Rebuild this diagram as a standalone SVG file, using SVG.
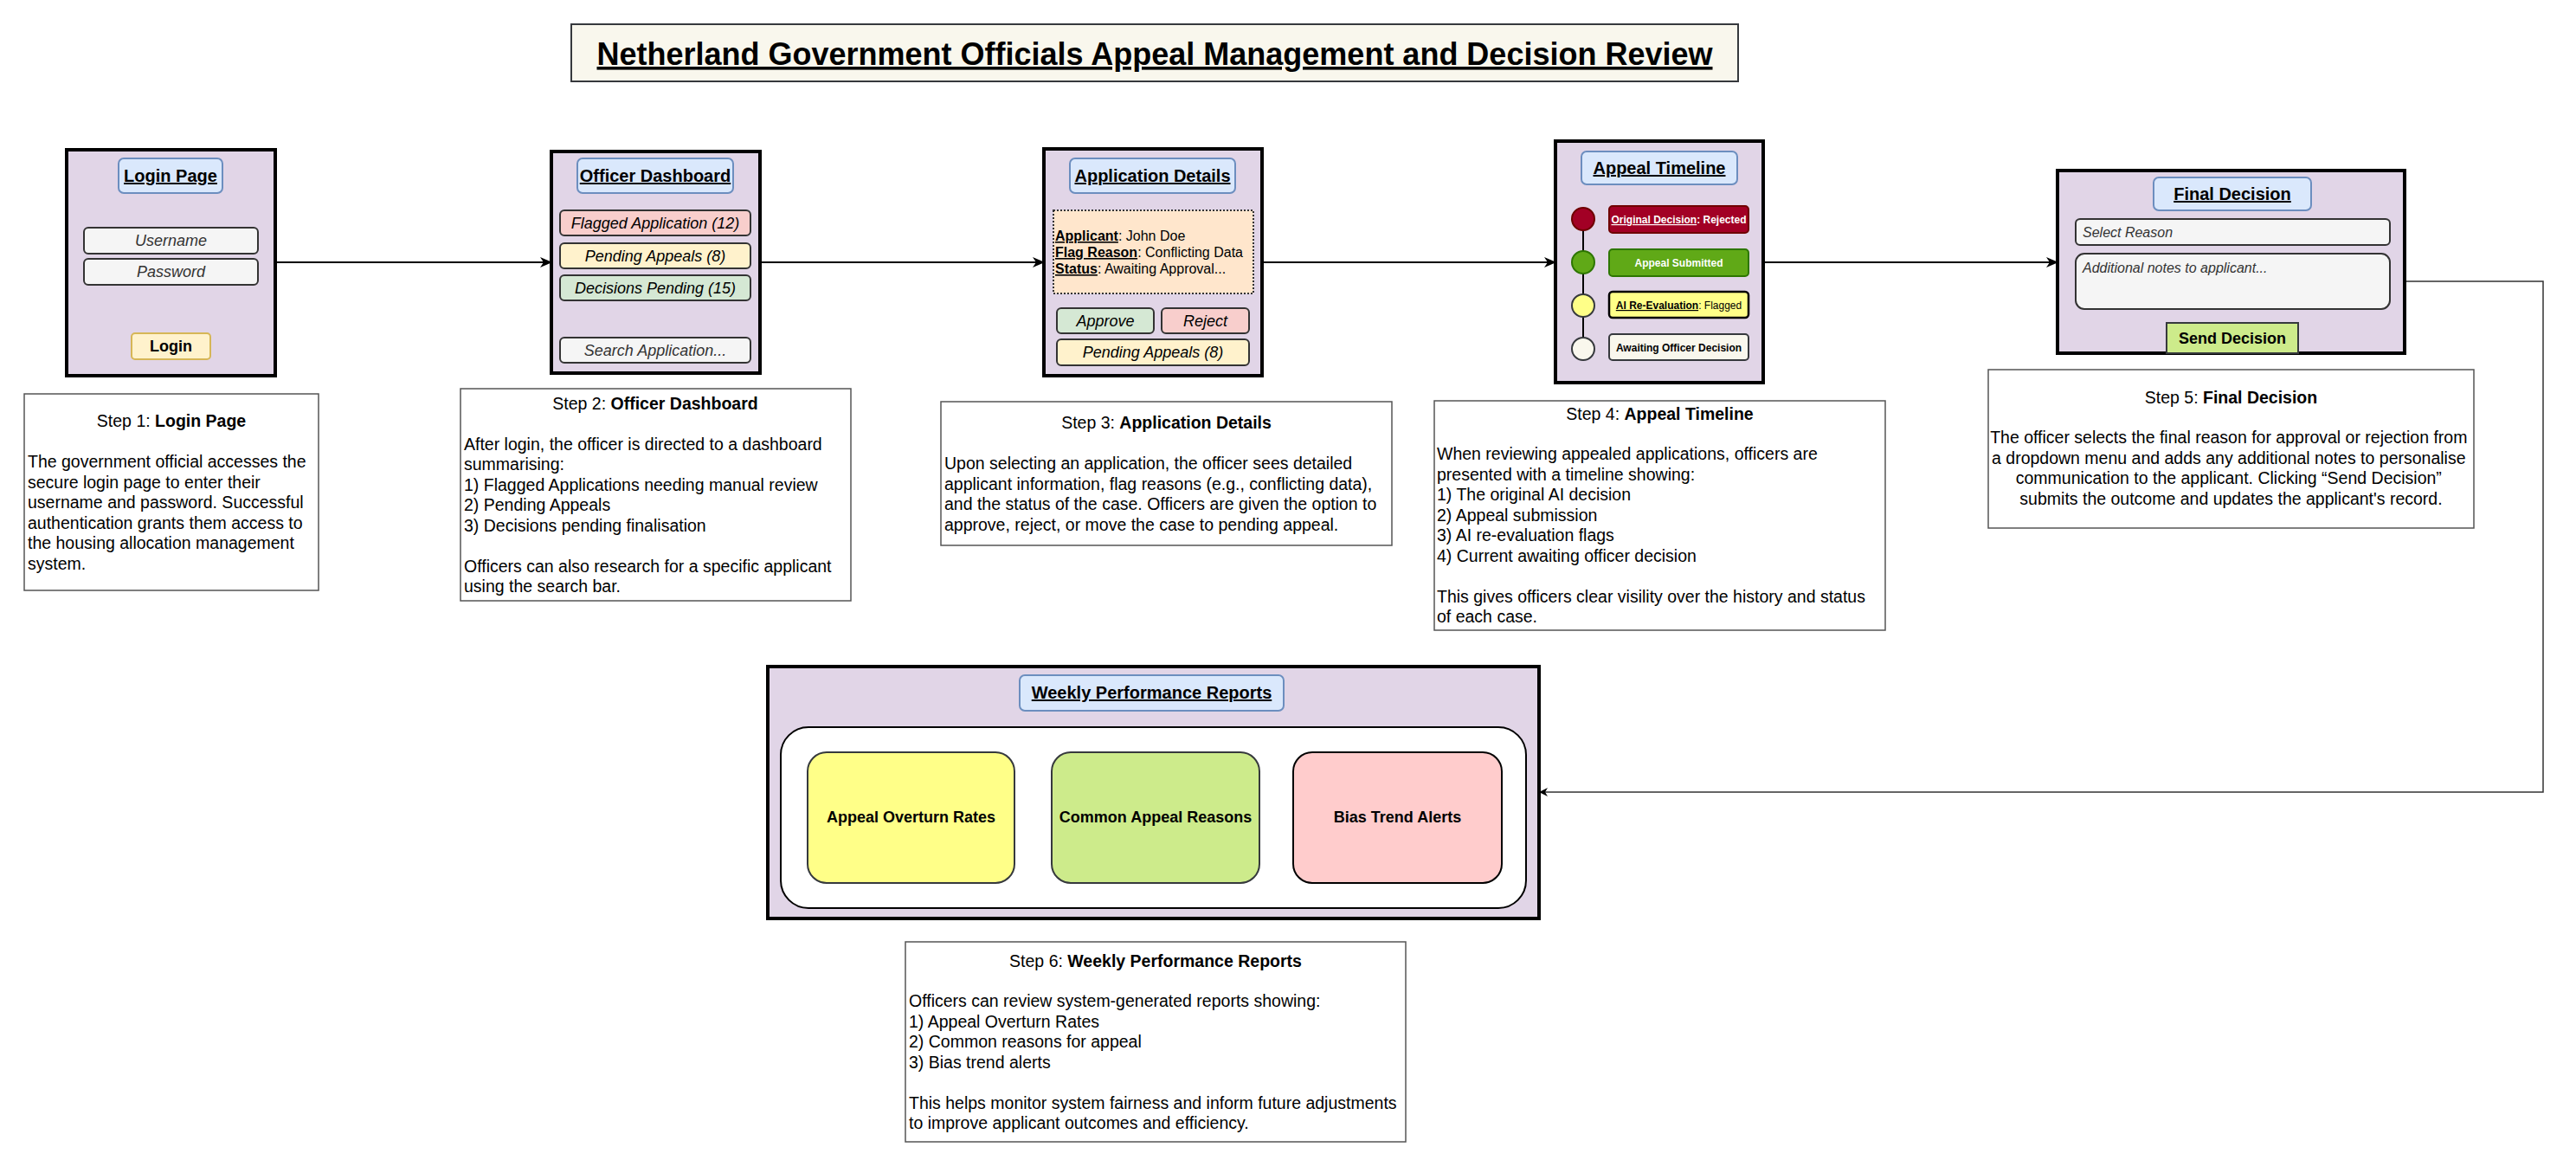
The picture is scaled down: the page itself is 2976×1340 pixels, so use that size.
<svg xmlns="http://www.w3.org/2000/svg" width="2976" height="1340" viewBox="0 0 2976 1340">
  <defs>
    <style>
      text { font-family: "Liberation Sans", Arial, Helvetica, sans-serif; fill: #000; }
      .frame { fill: #e1d5e7; stroke: #000; stroke-width: 4; }
      .pill { fill: #dae8fc; stroke: #6c8ebf; stroke-width: 2; }
      .pill-t { font-size: 20px; font-weight: bold; text-decoration: underline; text-anchor: middle; }
      .field { fill: #f5f5f5; stroke: #333; stroke-width: 2; }
      .in-t { font-size: 18px; font-style: italic; fill: #333; text-anchor: middle; }
      .btn-t { font-size: 18px; font-style: italic; text-anchor: middle; }
      .bold-t { font-size: 18px; font-weight: bold; text-anchor: middle; }
      .red { fill: #f8cecc; stroke: #333; stroke-width: 2; }
      .yel { fill: #fff2cc; stroke: #333; stroke-width: 2; }
      .grn { fill: #d5e8d4; stroke: #333; stroke-width: 2; }
      .step { fill: #fff; stroke: #555; stroke-width: 1.5; }
      .step-h { font-size: 19.5px; text-anchor: middle; }
      .step-b { font-size: 19.5px; }
      .tl-t { font-size: 12px; font-weight: bold; text-anchor: middle; }
      .card-t { font-size: 18px; font-weight: bold; text-anchor: middle; }
      .link { fill: none; stroke: #000; stroke-width: 2; }
    </style>
    <marker id="arrow" viewBox="0 0 14 12" refX="13" refY="6" markerWidth="14" markerHeight="12" markerUnits="userSpaceOnUse" orient="auto">
      <path d="M0,0 L14,6 L0,12 L4,6 Z" fill="#000"/>
    </marker>
    <marker id="arrow-s" viewBox="0 0 10 10" refX="9" refY="5" markerWidth="10" markerHeight="10" markerUnits="userSpaceOnUse" orient="auto">
      <path d="M0,0 L10,5 L0,10 L3,5 Z" fill="#000"/>
    </marker>
  </defs>

  <rect width="2976" height="1340" fill="#fff"/>

  <!-- heading -->
  <g id="title">
    <rect x="660" y="28" width="1348" height="66" fill="#f9f7ed" stroke="#36393d" stroke-width="2"/>
    <text x="1334" y="75" font-size="36" font-weight="bold" text-anchor="middle" text-decoration="underline">Netherland Government Officials Appeal Management and Decision Review</text>
  </g>

  <!-- connectors -->
  <g id="connectors">
    <line class="link" x1="318" y1="303" x2="637" y2="303" marker-end="url(#arrow)"/>
    <line class="link" x1="878" y1="303" x2="1206" y2="303" marker-end="url(#arrow)"/>
    <line class="link" x1="1458" y1="303" x2="1797" y2="303" marker-end="url(#arrow)"/>
    <line class="link" x1="2037" y1="303" x2="2377" y2="303" marker-end="url(#arrow)"/>
    <path d="M2761,325 H2938 V915 H1779" fill="none" stroke="#333" stroke-width="1.5" marker-end="url(#arrow-s)"/>
  </g>

  <!-- 1: login screen -->
  <g id="login-page">
    <rect class="frame" x="77" y="173" width="241" height="261"/>
    <rect class="pill" x="137" y="183" width="120" height="40" rx="6"/>
    <text class="pill-t" x="197" y="210">Login Page</text>
    <rect class="field" x="97" y="263" width="201" height="30" rx="5"/>
    <text class="in-t" x="197.5" y="284">Username</text>
    <rect class="field" x="97" y="299" width="201" height="30" rx="5"/>
    <text class="in-t" x="197.5" y="320">Password</text>
    <rect x="152" y="385" width="91" height="30" rx="4" fill="#fff2cc" stroke="#d6b656" stroke-width="2"/>
    <text class="bold-t" x="197.5" y="406">Login</text>
  </g>

  <!-- 2: dashboard -->
  <g id="officer-dashboard">
    <rect class="frame" x="637" y="175" width="241" height="256"/>
    <rect class="pill" x="667" y="183" width="180" height="40" rx="6"/>
    <text class="pill-t" x="757" y="210">Officer Dashboard</text>
    <rect class="red" x="647" y="243" width="220" height="29" rx="5"/>
    <text class="btn-t" x="757" y="264">Flagged Application (12)</text>
    <rect class="yel" x="647" y="281" width="220" height="29" rx="5"/>
    <text class="btn-t" x="757" y="302">Pending Appeals (8)</text>
    <rect class="grn" x="647" y="318" width="220" height="29" rx="5"/>
    <text class="btn-t" x="757" y="339">Decisions Pending (15)</text>
    <rect class="field" x="647" y="390" width="220" height="29" rx="5"/>
    <text class="in-t" x="757" y="411">Search Application...</text>
  </g>

  <!-- 3: application details -->
  <g id="application-details">
    <rect class="frame" x="1206" y="172" width="252" height="262"/>
    <rect class="pill" x="1236" y="183" width="191" height="40" rx="6"/>
    <text class="pill-t" x="1331.5" y="210">Application Details</text>
    <rect x="1217" y="243" width="231" height="96" fill="#ffe6cc" stroke="#333" stroke-width="2" stroke-dasharray="2 2"/>
    <text x="1219" y="278" font-size="16"><tspan font-weight="bold" text-decoration="underline">Applicant</tspan>: John Doe</text>
    <text x="1219" y="297" font-size="16"><tspan font-weight="bold" text-decoration="underline">Flag Reason</tspan>: Conflicting Data</text>
    <text x="1219" y="316" font-size="16"><tspan font-weight="bold" text-decoration="underline">Status</tspan>: Awaiting Approval...</text>
    <rect class="grn" x="1221" y="356" width="112" height="29" rx="5"/>
    <text class="btn-t" x="1277" y="377">Approve</text>
    <rect class="red" x="1342" y="356" width="101" height="29" rx="5"/>
    <text class="btn-t" x="1392.5" y="377">Reject</text>
    <rect class="yel" x="1221" y="392" width="222" height="30" rx="5"/>
    <text class="btn-t" x="1332" y="413">Pending Appeals (8)</text>
  </g>

  <!-- 4: appeal timeline -->
  <g id="appeal-timeline">
    <rect class="frame" x="1797" y="163" width="240" height="279"/>
    <rect class="pill" x="1827" y="175" width="180" height="38" rx="6"/>
    <text class="pill-t" x="1917" y="201">Appeal Timeline</text>
    <line x1="1829" y1="253" x2="1829" y2="403" stroke="#000" stroke-width="2"/>
    <circle cx="1829" cy="253" r="13" fill="#a20025" stroke="#6f0000" stroke-width="2"/>
    <circle cx="1829" cy="303" r="13" fill="#60a917" stroke="#2d7600" stroke-width="2"/>
    <circle cx="1829" cy="353" r="13" fill="#ffff88" stroke="#36393d" stroke-width="2"/>
    <circle cx="1829" cy="403" r="13" fill="#f9f7ed" stroke="#36393d" stroke-width="2"/>
    <rect x="1859" y="238" width="161" height="31" rx="4" fill="#a20025" stroke="#6f0000" stroke-width="2"/>
    <text class="tl-t" x="1939.5" y="258" style="fill:#fff"><tspan text-decoration="underline">Original Decision</tspan>: Rejected</text>
    <rect x="1859" y="288" width="161" height="31" rx="4" fill="#60a917" stroke="#2d7600" stroke-width="2"/>
    <text class="tl-t" x="1939.5" y="308" style="fill:#fff">Appeal Submitted</text>
    <rect x="1859" y="337" width="161" height="30" rx="4" fill="#ffff88" stroke="#000" stroke-width="2.5"/>
    <text x="1939.5" y="357" font-size="12" text-anchor="middle"><tspan font-weight="bold" text-decoration="underline">AI Re-Evaluation</tspan>: Flagged</text>
    <rect x="1859" y="386" width="161" height="30" rx="4" fill="#f9f7ed" stroke="#36393d" stroke-width="2"/>
    <text class="tl-t" x="1939.5" y="406">Awaiting Officer Decision</text>
  </g>

  <!-- 5: final decision -->
  <g id="final-decision">
    <rect class="frame" x="2377" y="197" width="401" height="211"/>
    <rect class="pill" x="2488" y="205" width="182" height="38" rx="6"/>
    <text class="pill-t" x="2579" y="231">Final Decision</text>
    <rect class="field" x="2398" y="253" width="363" height="30" rx="5"/>
    <text x="2406" y="274" font-size="16" font-style="italic" style="fill:#333">Select Reason</text>
    <rect class="field" x="2398" y="293" width="363" height="64" rx="10"/>
    <text x="2406" y="315" font-size="16" font-style="italic" style="fill:#333">Additional notes to applicant...</text>
    <rect x="2503" y="373" width="152" height="35" fill="#cdeb8b" stroke="#36393d" stroke-width="2"/>
    <text class="bold-t" x="2579" y="397">Send Decision</text>
  </g>

  <!-- 6: weekly reports -->
  <g id="weekly-reports">
    <rect class="frame" x="887" y="770" width="891" height="291"/>
    <rect class="pill" x="1178" y="780" width="305" height="41" rx="6"/>
    <text class="pill-t" x="1330.5" y="807">Weekly Performance Reports</text>
    <rect x="902" y="840" width="861" height="209" rx="32" fill="#fff" stroke="#000" stroke-width="2"/>
    <rect x="933" y="869" width="239" height="151" rx="22" fill="#ffff88" stroke="#36393d" stroke-width="2"/>
    <text class="card-t" x="1052.5" y="950">Appeal Overturn Rates</text>
    <rect x="1215" y="869" width="240" height="151" rx="22" fill="#cdeb8b" stroke="#36393d" stroke-width="2"/>
    <text class="card-t" x="1335" y="950">Common Appeal Reasons</text>
    <rect x="1494" y="869" width="241" height="151" rx="22" fill="#ffcccc" stroke="#000" stroke-width="2"/>
    <text class="card-t" x="1614.5" y="950">Bias Trend Alerts</text>
  </g>

  <!-- step notes -->
  <g id="step-1">
    <rect class="step" x="28" y="455" width="340" height="227"/>
    <text class="step-h" x="198" y="493">Step 1: <tspan font-weight="bold">Login Page</tspan></text>
    <text class="step-b">
      <tspan x="32" y="540">The government official accesses the</tspan>
      <tspan x="32" y="563.5">secure login page to enter their</tspan>
      <tspan x="32" y="587">username and password. Successful</tspan>
      <tspan x="32" y="610.5">authentication grants them access to</tspan>
      <tspan x="32" y="634">the housing allocation management</tspan>
      <tspan x="32" y="657.5">system.</tspan>
    </text>
  </g>

  <g id="step-2">
    <rect class="step" x="532" y="449" width="451" height="245"/>
    <text class="step-h" x="757" y="473">Step 2: <tspan font-weight="bold">Officer Dashboard</tspan></text>
    <text class="step-b">
      <tspan x="536" y="519.5">After login, the officer is directed to a dashboard</tspan>
      <tspan x="536" y="543">summarising:</tspan>
      <tspan x="536" y="566.5">1) Flagged Applications needing manual review</tspan>
      <tspan x="536" y="590">2) Pending Appeals</tspan>
      <tspan x="536" y="613.5">3) Decisions pending finalisation</tspan>
      <tspan x="536" y="660.5">Officers can also research for a specific applicant</tspan>
      <tspan x="536" y="684">using the search bar.</tspan>
    </text>
  </g>

  <g id="step-3">
    <rect class="step" x="1087" y="464" width="521" height="166"/>
    <text class="step-h" x="1347.5" y="495">Step 3: <tspan font-weight="bold">Application Details</tspan></text>
    <text class="step-b">
      <tspan x="1091" y="542">Upon selecting an application, the officer sees detailed</tspan>
      <tspan x="1091" y="565.5">applicant information, flag reasons (e.g., conflicting data),</tspan>
      <tspan x="1091" y="589">and the status of the case. Officers are given the option to</tspan>
      <tspan x="1091" y="612.5">approve, reject, or move the case to pending appeal.</tspan>
    </text>
  </g>

  <g id="step-4">
    <rect class="step" x="1657" y="463" width="521" height="265"/>
    <text class="step-h" x="1917.5" y="485">Step 4: <tspan font-weight="bold">Appeal Timeline</tspan></text>
    <text class="step-b">
      <tspan x="1660" y="531">When reviewing appealed applications, officers are</tspan>
      <tspan x="1660" y="554.5">presented with a timeline showing:</tspan>
      <tspan x="1660" y="578">1) The original AI decision</tspan>
      <tspan x="1660" y="601.5">2) Appeal submission</tspan>
      <tspan x="1660" y="625">3) AI re-evaluation flags</tspan>
      <tspan x="1660" y="648.5">4) Current awaiting officer decision</tspan>
      <tspan x="1660" y="695.5">This gives officers clear visility over the history and status</tspan>
      <tspan x="1660" y="719">of each case.</tspan>
    </text>
  </g>

  <g id="step-5">
    <rect class="step" x="2297" y="427" width="561" height="183"/>
    <text class="step-h" x="2577.5" y="466">Step 5: <tspan font-weight="bold">Final Decision</tspan></text>
    <text class="step-h">
      <tspan x="2577.5" y="512">The officer selects the final reason for approval or rejection from</tspan>
      <tspan x="2577.5" y="535.5">a dropdown menu and adds any additional notes to personalise</tspan>
      <tspan x="2577.5" y="559">communication to the applicant. Clicking “Send Decision”</tspan>
      <tspan x="2577.5" y="582.5">submits the outcome and updates the applicant's record.</tspan>
    </text>
  </g>

  <g id="step-6">
    <rect class="step" x="1046" y="1088" width="578" height="231"/>
    <text class="step-h" x="1335" y="1117">Step 6: <tspan font-weight="bold">Weekly Performance Reports</tspan></text>
    <text class="step-b">
      <tspan x="1050" y="1163">Officers can review system-generated reports showing:</tspan>
      <tspan x="1050" y="1186.5">1) Appeal Overturn Rates</tspan>
      <tspan x="1050" y="1210">2) Common reasons for appeal</tspan>
      <tspan x="1050" y="1233.5">3) Bias trend alerts</tspan>
      <tspan x="1050" y="1280.5">This helps monitor system fairness and inform future adjustments</tspan>
      <tspan x="1050" y="1304">to improve applicant outcomes and efficiency.</tspan>
    </text>
  </g>
</svg>
